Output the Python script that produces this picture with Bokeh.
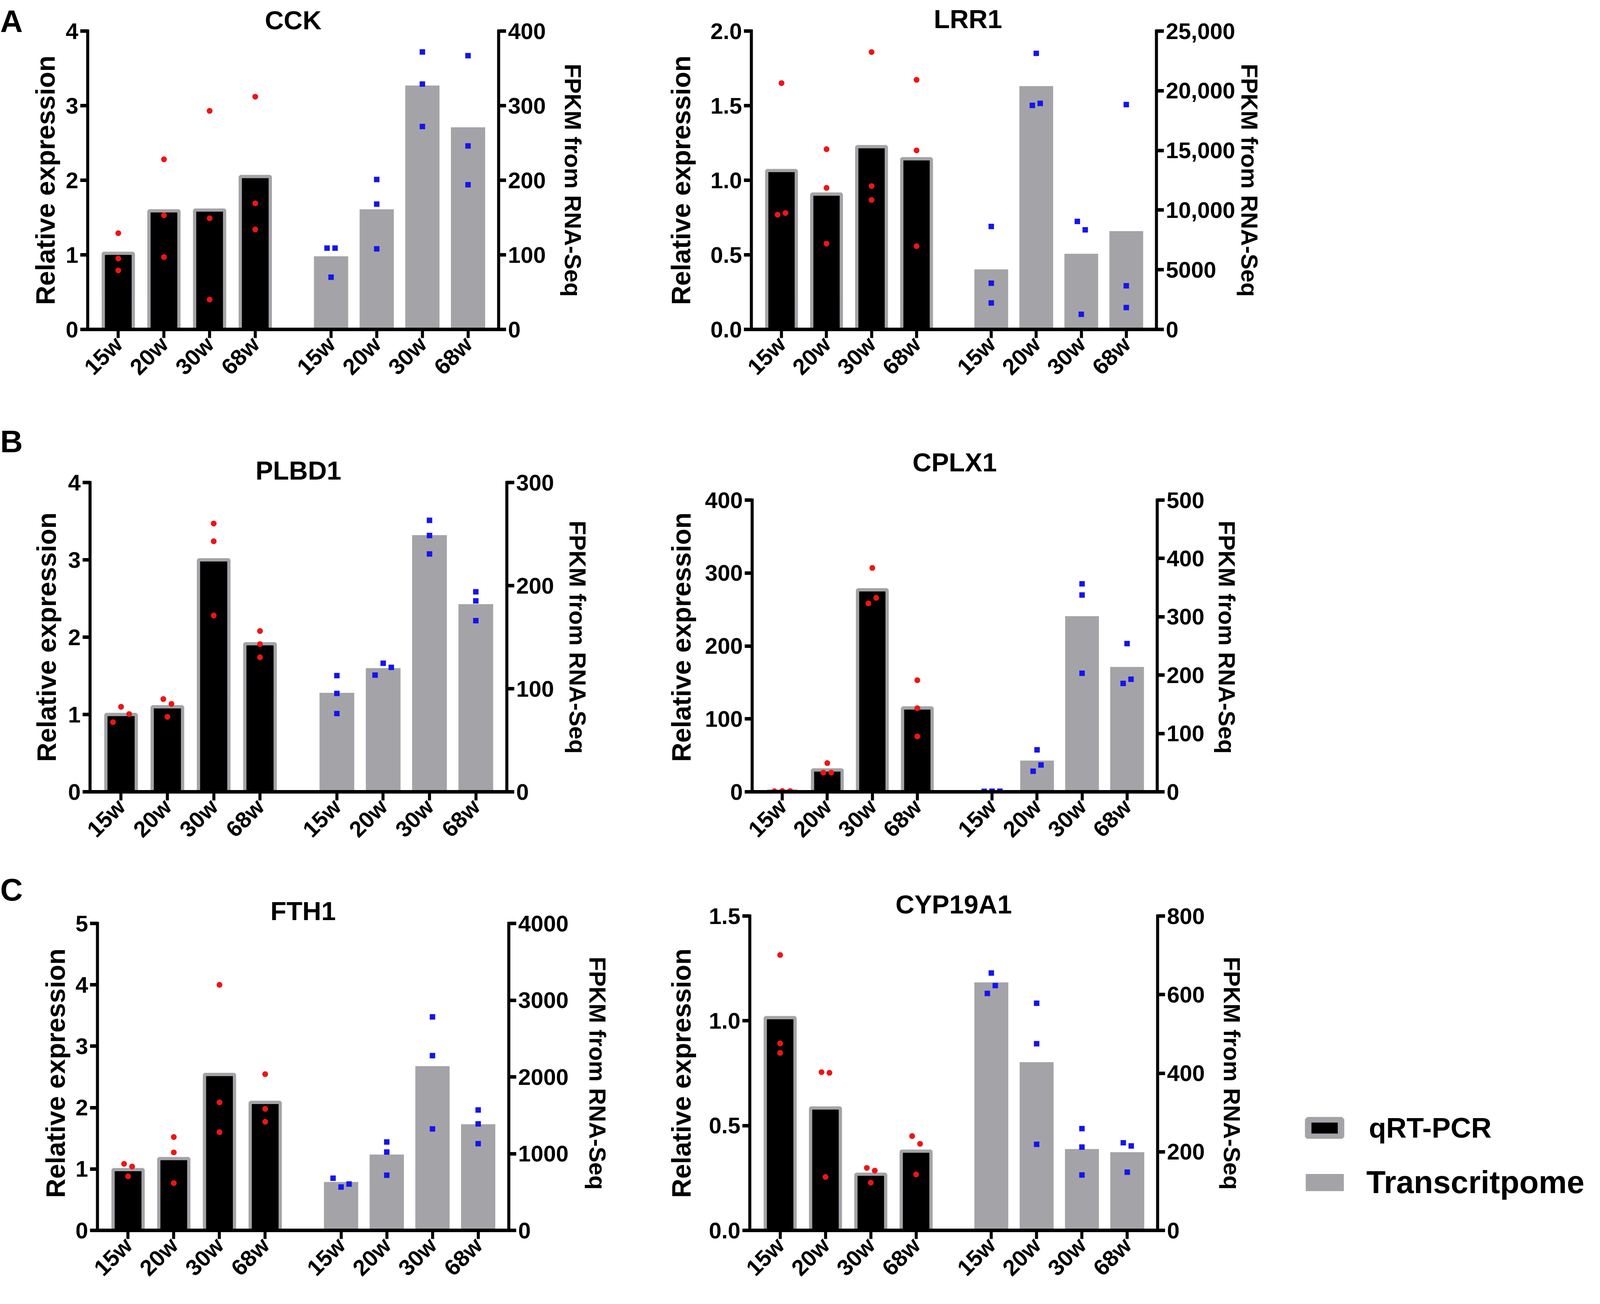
import math
from bokeh.plotting import figure
from bokeh.models import (Range1d, LinearAxis, FixedTicker, Legend, LegendItem)
from bokeh.layouts import column, row
from bokeh.embed import file_html
from bokeh.resources import INLINE

# ---------------- data ----------------
weeks = ["15w", "20w", "30w", "68w"]

CCK_QPCR = [1.02, 1.59, 1.60, 2.05]
CCK_QPCR_REPS = [[1.29, 0.95, 0.79], [2.28, 1.53, 0.97], [2.93, 1.49, 0.40], [3.12, 1.69, 1.34]]
CCK_RNA = [98, 161, 327, 271]
CCK_RNA_REPS = [[109, 109, 70], [201, 168, 108], [372, 329, 272], [367, 246, 194]]
CCK_LEFT_TICKS = ["0", "1", "2", "3", "4"]
CCK_RIGHT_TICKS = ["0", "100", "200", "300", "400"]

LRR1_QPCR = [1.065, 0.907, 1.225, 1.144]
LRR1_QPCR_REPS = [[1.651, 0.769, 0.780], [1.208, 0.949, 0.575], [1.859, 0.961, 0.868], [1.673, 1.200, 0.558]]
LRR1_RNA = [5035, 20390, 6340, 8240]
LRR1_RNA_REPS = [[8626, 3873, 2218], [23130, 18770, 18940], [9050, 8345, 1270], [18840, 3660, 1830]]
LRR1_LEFT_TICKS = ["0.0", "0.5", "1.0", "1.5", "2.0"]
LRR1_RIGHT_TICKS = ["0", "5000", "10,000", "15,000", "20,000", "25,000"]

PLBD1_QPCR = [1.00, 1.10, 3.00, 1.915]
PLBD1_QPCR_REPS = [[0.90, 1.10, 1.005], [1.20, 1.137, 0.97], [3.47, 3.24, 2.28], [2.08, 1.91, 1.74]]
PLBD1_RNA = [96, 120, 249, 182]
PLBD1_RNA_REPS = [[112.7, 95.4, 75.9], [113.2, 124.7, 120.7], [263.3, 248.6, 230.7], [194, 185.2, 166]]
PLBD1_LEFT_TICKS = ["0", "1", "2", "3", "4"]
PLBD1_RIGHT_TICKS = ["0", "100", "200", "300"]

CPLX1_QPCR = [1.0, 30, 277, 115]
CPLX1_QPCR_REPS = [[0.8, 1.1, 1.0], [39.4, 26.3, 26.3], [307, 258.4, 266], [153, 114.6, 75.9]]
CPLX1_RNA = [1.0, 53.6, 301, 214]
CPLX1_RNA_REPS = [[0.9, 1.1, 1.0], [72, 35.3, 46], [356.5, 337.3, 203.2], [254, 185.8, 192.9]]
CPLX1_LEFT_TICKS = ["0", "100", "200", "300", "400"]
CPLX1_RIGHT_TICKS = ["0", "100", "200", "300", "400", "500"]

FTH1_QPCR = [0.99, 1.17, 2.54, 2.085]
FTH1_QPCR_REPS = [[1.084, 1.04, 0.88], [1.52, 1.27, 0.77], [4.0, 2.085, 1.60], [2.545, 1.98, 1.77]]
FTH1_RNA = [631, 988, 2140, 1383]
FTH1_RNA_REPS = [[680, 565, 604], [1152, 1021, 719], [2782, 2277, 1322], [1569, 1388, 1130]]
FTH1_LEFT_TICKS = ["0", "1", "2", "3", "4", "5"]
FTH1_RIGHT_TICKS = ["0", "1000", "2000", "3000", "4000"]

CYP_QPCR = [1.015, 0.584, 0.268, 0.378]
CYP_QPCR_REPS = [[1.314, 0.892, 0.847], [0.755, 0.752, 0.255], [0.298, 0.285, 0.228], [0.45, 0.413, 0.267]]
CYP_RNA = [631, 428, 207, 199]
CYP_RNA_REPS = [[655, 603, 623], [578, 475, 219], [259, 212, 141], [223, 215, 148]]
CYP_LEFT_TICKS = ["0.0", "0.5", "1.0", "1.5"]
CYP_RIGHT_TICKS = ["0", "200", "400", "600", "800"]

LEFT_LABEL = "Relative expression"
RIGHT_LABEL = "FPKM from RNA-Seq"
LEGEND_LABELS = ["qRT-PCR", "Transcritpome"]
PANEL_LETTERS = ["A", "B", "C"]

# ---------------- styling / layout ----------------
# Geometry is written in reference-picture pixels and mapped onto the page
# (the visible page area is about 4096 x 3339 CSS px).
VIEW_W, VIEW_H = 4096, 3339
REF_W, REF_H = 4743, 3339
SX = VIEW_W / REF_W
SY = VIEW_H / REF_H
FS = 0.93                       # text / marker scale
PAGE = 8
FONT = "Liberation Sans"
GRAY = "#a4a4a8"
RED = "#f01414"
BLUE = "#1414f0"
GROUP_GAP = 0.66
THRESH = 22.5
STEP = 0.175
TITLE_H = 95 / 72               # measured title box height per font px
FRAME_TOP_REF = [87, 1243, 2353]


def X(v):
    return int(round(v * SX - PAGE))


def Y(v):
    return int(round(v * SY - PAGE))


def fpx(v):
    return f"{v:.1f}px"


def num_w(s, fs):
    return fs * sum(0.278 if ch in ",." else 0.556 for ch in s)


ROW_Y = [0, Y(1005), Y(2195), VIEW_H - 2 * PAGE]
FRAME_TOP = [Y(v) for v in FRAME_TOP_REF]
BASELINE = [Y(853), Y(2035), Y(3158)]
COL_X = [0, X(89), X(1900), X(3768), VIEW_W - 2 * PAGE]

TICK_FS = 58
XTICK_FS = 58


def jitter(vals, px_per_unit):
    n = len(vals)
    offs = [0.0] * n
    order = sorted(range(n), key=lambda i: vals[i])
    clusters = [[order[0]]]
    for i in order[1:]:
        if (vals[i] - vals[clusters[-1][-1]]) * px_per_unit < THRESH * SY:
            clusters[-1].append(i)
        else:
            clusters.append([i])
    for cl in clusters:
        cl = sorted(cl)
        m = len(cl)
        for k, i in enumerate(cl):
            offs[i] = (k - (m - 1) / 2) * STEP
    return offs


def style_axis(ax, fs, vertical):
    # vertical=True for the y axes (line runs vertically, ticks run horizontally)
    ax.axis_line_width = 9 * (SX if vertical else SY)
    ax.axis_line_color = "black"
    ax.axis_line_cap = "square"
    ax.major_tick_line_width = 9 * (SY if vertical else SX)
    ax.major_tick_line_color = "black"
    ax.major_tick_out = int(round(22 * (SX if vertical else SY)))
    ax.major_tick_in = 0
    ax.minor_tick_line_color = None
    ax.major_label_text_font = FONT
    ax.major_label_text_font_style = "bold"
    ax.major_label_text_font_size = fpx(fs)
    ax.major_label_text_color = "black"
    ax.major_label_standoff = int(round(6 * (SX if vertical else SY)))
    ax.axis_label_text_font = FONT
    ax.axis_label_text_font_style = "bold"
    ax.axis_label_text_color = "black"


def row_borders(r):
    h = ROW_Y[r + 1] - ROW_Y[r]
    return h, FRAME_TOP[r] - ROW_Y[r], ROW_Y[r + 1] - BASELINE[r]


def blank_fig(width, r):
    h, top, bottom = row_borders(r)
    p = figure(width=width, height=h, min_border_left=0, min_border_right=0,
               min_border_top=top, min_border_bottom=bottom,
               x_range=Range1d(0, 1), y_range=Range1d(0, 1),
               x_axis_location=None, y_axis_location=None,
               output_backend="svg", toolbar_location=None, tools="")
    p.xgrid.visible = False
    p.ygrid.visible = False
    p.outline_line_color = None
    return p


def title_standoff(center_above_ref, font_css):
    return 2 * center_above_ref * SY - TITLE_H * font_css


def letter_fig(r, letter_cy):
    p = blank_fig(COL_X[1] - COL_X[0], r)
    fs = 86 * FS
    p.title.text = PANEL_LETTERS[r]
    p.title.align = "left"
    p.title.offset = 0
    p.title.standoff = title_standoff(FRAME_TOP_REF[r] - letter_cy, fs)
    p.title.text_font = FONT
    p.title.text_font_style = "bold"
    p.title.text_font_size = fpx(fs)
    p.title.text_color = "black"
    return p


def make_panel(name, qm, qr, rm, rr, lt, rt, lay):
    r = lay["row"]
    h, top, bottom = row_borders(r)
    x0 = COL_X[1] if lay["col"] == 0 else COL_X[2]
    if lay["col"] == 0:
        W = COL_X[2] - COL_X[1]
    else:
        W = (COL_X[3] if r == 2 else COL_X[4]) - COL_X[2]
    fl = X(lay["fl"]) - x0
    fw = int(round(lay["fw"] * SX))
    fh = BASELINE[r] - FRAME_TOP[r]
    stretch = fh / (BASELINE[r] - Y(lay["ty"]))
    lvals = [float(t.replace(",", "")) for t in lt]
    rvals = [float(t.replace(",", "")) for t in rt]
    xs = [i + (GROUP_GAP if i >= 4 else 0.0) for i in range(2 * len(weeks))]

    p = figure(width=W, height=h,
               min_border_left=fl, min_border_top=top,
               min_border_right=W - fl - fw, min_border_bottom=bottom,
               x_range=Range1d(-0.67, xs[-1] + 0.67),
               y_range=Range1d(0, lvals[-1] * stretch),
               output_backend="svg", toolbar_location=None, tools="",
               title=name)
    p.extra_y_ranges = {"r": Range1d(0, rvals[-1] * stretch)}
    p.xgrid.visible = False
    p.ygrid.visible = False
    p.outline_line_color = None
    p.background_fill_color = "white"
    p.border_fill_color = "white"

    tfs = 72 * FS
    if lay.get("tx") is not None:
        tw = tfs * lay["tw_em"]
        p.title.align = "left"
        p.title.offset = (lay["tx"] - lay["fl"]) * SX - tw / 2
    else:
        p.title.align = "center"
    p.title.standoff = title_standoff(FRAME_TOP_REF[r] - lay["ty_title"], tfs)
    p.title.text_font = FONT
    p.title.text_font_style = "bold"
    p.title.text_font_size = fpx(tfs)
    p.title.text_color = "black"

    # axes
    xa = p.xaxis[0]
    style_axis(xa, XTICK_FS, False)
    xa.ticker = FixedTicker(ticks=xs)
    xa.major_label_overrides = {x: w for x, w in zip(xs, weeks + weeks)}
    xa.major_label_orientation = math.pi / 4

    lw_ref = max(num_w(t, 60) for t in lt)
    lw_css = max(num_w(t, TICK_FS) for t in lt)
    ya = p.yaxis[0]
    style_axis(ya, TICK_FS, True)
    ya.ticker = FixedTicker(ticks=lvals)
    ya.bounds = (0, lvals[-1])
    ya.major_label_overrides = {v: t for v, t in zip(lvals, lt)}
    ya.axis_label = LEFT_LABEL
    ya.axis_label_text_font_size = fpx(68)
    ya.axis_label_standoff = int(round(max(0, (lay["lstand"] + lw_ref) * SX - lw_css)))

    rw_ref = max(num_w(t, 60) for t in rt)
    rw_css = max(num_w(t, TICK_FS) for t in rt)
    ra = LinearAxis(y_range_name="r", ticker=FixedTicker(ticks=rvals),
                    bounds=(0, rvals[-1]),
                    major_label_overrides={v: t for v, t in zip(rvals, rt)})
    style_axis(ra, TICK_FS, True)
    ra.axis_label = RIGHT_LABEL
    ra.axis_label_text_font_size = fpx(60)
    ra.axis_label_standoff = int(round(max(0, (lay["rstand"] + rw_ref) * SX - rw_css)))
    p.add_layout(ra, "right")

    # bars
    nq = len(weeks)
    p.vbar(x=xs[:nq], top=qm, width=0.657, fill_color="black",
           line_color=GRAY, line_width=9 * FS)
    p.vbar(x=xs[nq:], top=rm, width=0.75, fill_color=GRAY,
           line_color=None, y_range_name="r")

    # replicate points (spread sideways when they would overlap)
    lppu = fh / (lvals[-1] * stretch)
    rppu = fh / (rvals[-1] * stretch)
    qx, qy, tx, ty = [], [], [], []
    for j in range(nq):
        for o, v in zip(jitter(qr[j], lppu), qr[j]):
            qx.append(xs[j] + o)
            qy.append(v)
        for o, v in zip(jitter(rr[j], rppu), rr[j]):
            tx.append(xs[nq + j] + o)
            ty.append(v)
    p.scatter(x=qx, y=qy, marker="circle", size=16 * FS, fill_color=RED, line_color=None)
    p.scatter(x=tx, y=ty, marker="square", size=15 * FS, fill_color=BLUE, line_color=None,
              y_range_name="r")
    return p


def legend_fig():
    p = blank_fig(COL_X[4] - COL_X[3], 2)
    base = 3158
    lw = 18 * FS
    nan = float("nan")
    # proxies without drawable data: they only feed the legend swatches
    d1 = p.vbar(x=[nan], top=[nan], width=0.5, fill_color="black", line_color=GRAY,
                line_width=lw)
    d2 = p.vbar(x=[nan], top=[nan], width=0.5, fill_color=GRAY, line_color=None)
    common = dict(padding=0, margin=0, border_line_color=None, background_fill_alpha=0,
                  label_text_font=FONT, label_text_font_style="bold",
                  label_text_color="black")
    sw_left = (3865 - 3768) * SX
    sw_w = 141 * SX
    f1, f2 = 78 * FS, 90 * 0.9
    h1 = max(1.117 * f1, 73 * SY - lw)
    leg1 = Legend(items=[LegendItem(label=LEGEND_LABELS[0], renderers=[d1])],
                  location=(sw_left + lw / 2, base - (2848 + lw / 2) - h1),
                  glyph_width=int(round(sw_w - lw)), glyph_height=int(round(73 * SY - lw)),
                  label_standoff=int(round((4069 - 4006) * SX + lw / 2 - 2)),
                  label_text_font_size=fpx(f1), label_text_baseline="middle", **common)
    h2 = max(1.117 * f2, 55 * SY)
    leg2 = Legend(items=[LegendItem(label=LEGEND_LABELS[1], renderers=[d2])],
                  location=(sw_left, base - 2992 - h2),
                  glyph_width=int(round(sw_w)), glyph_height=int(round(55 * SY)),
                  label_standoff=int(round((4060 - 4006) * SX - 1)),
                  label_text_font_size=fpx(f2), label_text_baseline="alphabetic", **common)
    p.add_layout(leg1)
    p.add_layout(leg2)
    return p


LAYOUTS = {
    "CCK": dict(row=0, col=0, fl=269, ty=87, fw=1218, lstand=17, rstand=50, ty_title=52),
    "LRR1": dict(row=0, col=1, fl=2236, ty=87, fw=1201, lstand=50, rstand=1, ty_title=49,
                 tx=2878, tw_em=2.611),
    "PLBD1": dict(row=1, col=0, fl=276, ty=1243, fw=1236, lstand=20, rstand=40, ty_title=1205),
    "CPLX1": dict(row=1, col=1, fl=2238, ty=1288, fw=1201, lstand=35, rstand=36, ty_title=1184),
    "FTH1": dict(row=2, col=0, fl=298, ty=2372, fw=1219, lstand=16, rstand=59, ty_title=2333),
    "CYP19A1": dict(row=2, col=1, fl=2231, ty=2353, fw=1209, lstand=45, rstand=50, ty_title=2316),
}

pA = make_panel("CCK", CCK_QPCR, CCK_QPCR_REPS, CCK_RNA, CCK_RNA_REPS,
                CCK_LEFT_TICKS, CCK_RIGHT_TICKS, LAYOUTS["CCK"])
pL = make_panel("LRR1", LRR1_QPCR, LRR1_QPCR_REPS, LRR1_RNA, LRR1_RNA_REPS,
                LRR1_LEFT_TICKS, LRR1_RIGHT_TICKS, LAYOUTS["LRR1"])
pB = make_panel("PLBD1", PLBD1_QPCR, PLBD1_QPCR_REPS, PLBD1_RNA, PLBD1_RNA_REPS,
                PLBD1_LEFT_TICKS, PLBD1_RIGHT_TICKS, LAYOUTS["PLBD1"])
pX = make_panel("CPLX1", CPLX1_QPCR, CPLX1_QPCR_REPS, CPLX1_RNA, CPLX1_RNA_REPS,
                CPLX1_LEFT_TICKS, CPLX1_RIGHT_TICKS, LAYOUTS["CPLX1"])
pC = make_panel("FTH1", FTH1_QPCR, FTH1_QPCR_REPS, FTH1_RNA, FTH1_RNA_REPS,
                FTH1_LEFT_TICKS, FTH1_RIGHT_TICKS, LAYOUTS["FTH1"])
pY = make_panel("CYP19A1", CYP_QPCR, CYP_QPCR_REPS, CYP_RNA, CYP_RNA_REPS,
                CYP_LEFT_TICKS, CYP_RIGHT_TICKS, LAYOUTS["CYP19A1"])

layout = column(row(letter_fig(0, 54), pA, pL),
                row(letter_fig(1, 1130), pB, pX),
                row(letter_fig(2, 2278), pC, pY, legend_fig()))
open("out.html", "w").write(file_html(layout, INLINE))
